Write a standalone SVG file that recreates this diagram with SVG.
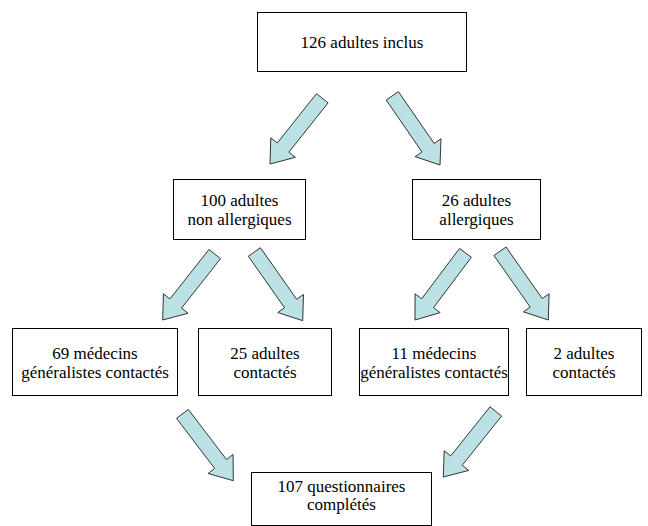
<svg xmlns="http://www.w3.org/2000/svg" xmlns:xlink="http://www.w3.org/1999/xlink" width="648" height="526" viewBox="0 0 648 526">
<style>
.box{fill:#ffffff;stroke:#000000;stroke-width:1}
.t{font-family:'Liberation Serif','Times New Roman',serif;font-size:17px;fill:#000000;text-anchor:middle}
.arr{fill:#BCE1E4;stroke:#1a1a1a;stroke-width:0.8;stroke-linejoin:miter}
</style>
<defs>
<polygon id="arrow" class="arr" points="-84,-7.4 -21,-7.4 -21,-15.7 0,0 -21,15.7 -21,7.4 -84,7.4"/>
</defs>
<rect width="648" height="526" fill="#ffffff"/>
<g id="connectors">
<use xlink:href="#arrow" transform="translate(270,164) rotate(128.5)"/>
<use xlink:href="#arrow" transform="translate(440,165) rotate(55.4)"/>
<use xlink:href="#arrow" transform="translate(162.7,320) rotate(128.3)"/>
<use xlink:href="#arrow" transform="translate(302.7,320.7) rotate(54.9)"/>
<use xlink:href="#arrow" transform="translate(415,320) rotate(126.9)"/>
<use xlink:href="#arrow" transform="translate(548.3,320) rotate(54.9)"/>
<use xlink:href="#arrow" transform="translate(233.3,480.7) rotate(52.7)"/>
<use xlink:href="#arrow" transform="translate(443.3,477) rotate(128.7)"/>
</g>
<g id="n_inclus">
<rect class="box" x="257.5" y="12.5" width="209" height="59"/>
<text class="t" x="362" y="47.5">126 adultes inclus</text>
</g>
<g id="n_nonallerg">
<rect class="box" x="173.5" y="179.5" width="132" height="60"/>
<text class="t" x="239.5" y="206">100 adultes</text>
<text class="t" x="239.5" y="224.5">non allergiques</text>
</g>
<g id="n_allerg">
<rect class="box" x="412.5" y="179.5" width="128" height="60"/>
<text class="t" x="476.5" y="206">26 adultes</text>
<text class="t" x="476.5" y="224.5">allergiques</text>
</g>
<g id="n_mg69">
<rect class="box" x="12.5" y="328.5" width="165" height="67"/>
<text class="t" x="95" y="359">69 médecins</text>
<text class="t" x="95" y="377.5">généralistes contactés</text>
</g>
<g id="n_ad25">
<rect class="box" x="198.5" y="328.5" width="133" height="67"/>
<text class="t" x="265" y="359">25 adultes</text>
<text class="t" x="265" y="377.5">contactés</text>
</g>
<g id="n_mg11">
<rect class="box" x="359.5" y="328.5" width="149" height="67"/>
<text class="t" x="434" y="359">11 médecins</text>
<text class="t" x="434" y="377.5">généralistes contactés</text>
</g>
<g id="n_ad2">
<rect class="box" x="526.5" y="328.5" width="115" height="67"/>
<text class="t" x="584" y="359">2 adultes</text>
<text class="t" x="584" y="377.5">contactés</text>
</g>
<g id="n_quest">
<rect class="box" x="251.5" y="472.5" width="180" height="53"/>
<text class="t" x="341.5" y="491.5">107 questionnaires</text>
<text class="t" x="341.5" y="510">complétés</text>
</g>
</svg>
